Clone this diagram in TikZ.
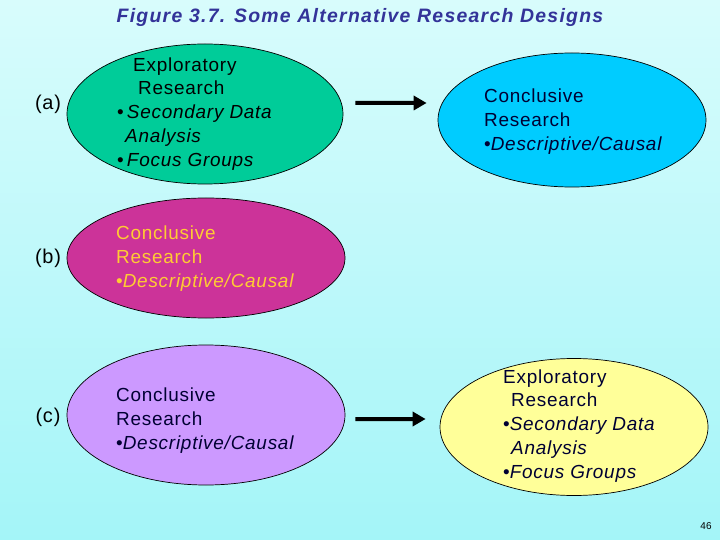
\documentclass[tikz,border=0pt]{standalone}
\usepackage{fontspec}
\setmainfont{Liberation Sans}
\usetikzlibrary{shapes.geometric,arrows.meta}
\definecolor{bgtop}{RGB}{216,252,252}
\definecolor{bgbottom}{RGB}{164,245,248}
\definecolor{titleblue}{RGB}{51,51,153}
\definecolor{sea}{RGB}{0,204,153}
\definecolor{sky}{RGB}{0,204,255}
\definecolor{plum}{RGB}{204,51,153}
\definecolor{lilac}{RGB}{204,153,255}
\definecolor{cream}{RGB}{255,255,153}
\definecolor{gold}{RGB}{255,204,51}
\definecolor{navy}{RGB}{0,0,51}
\tikzset{
	design/.style={ellipse, draw=black, line width=0.7bp, inner sep=0pt},
	body/.style={align=left, inner sep=0pt, anchor=west, font=\fontsize{19}{24}\selectfont\addfontfeature{LetterSpace=4}},
	tag/.style={inner sep=0pt, font=\fontsize{20}{24}\selectfont\addfontfeature{LetterSpace=4}},
	flow/.style={line width=4bp, -{Triangle[length=13bp,width=14bp]}}
}
\begin{document}
\begin{tikzpicture}[x=1bp, y=-1bp]
		%draw background
		\shade [top color=bgtop, bottom color=bgbottom] (0,0) rectangle (720,540);
		\useasboundingbox (0,0) rectangle (720,540);
		%draw title
		\node (title) at (360,17) [inner sep=0pt, color=titleblue, font=\fontsize{19.5}{24}\selectfont\bfseries\itshape\addfontfeature{LetterSpace=6.5}] {Figure 3.7. Some Alternative Research Designs};
		%draw row labels
		\node (taga) at (48,104) [tag] {(a)};
		\node (tagb) at (48,258) [tag] {(b)};
		\node (tagc) at (48,417) [tag] {(c)};
		%draw ellipses
		\node (ea) at (205,114) [design, fill=sea, minimum width=276bp, minimum height=140bp] {};
		\node (eb) at (572,120) [design, fill=sky, minimum width=268bp, minimum height=134bp] {};
		\node (ec) at (206,258) [design, fill=plum, minimum width=278bp, minimum height=120bp] {};
		\node (ed) at (206,415) [design, fill=lilac, minimum width=278bp, minimum height=140bp] {};
		\node (ee) at (574,427) [design, fill=cream, minimum width=268bp, minimum height=137bp] {};
		%draw texts
		\node (ta) at (117,114) [body] {\hspace*{16bp}Exploratory\\ \hspace*{21bp}Research\\ \textbullet\,\textit{Secondary Data}\\ \hspace*{8bp}\textit{Analysis}\\ \textbullet\,\textit{Focus Groups}};
		\node (tb) at (484,122) [body, color=navy] {Conclusive\\ Research\\ \textbullet\textit{Descriptive/Causal}};
		\node (tc) at (116,259) [body, color=gold] {Conclusive\\ Research\\ \textbullet\textit{Descriptive/Causal}};
		\node (td) at (116,421) [body, color=navy] {Conclusive\\ Research\\ \textbullet\textit{Descriptive/Causal}};
		\node (te) at (503,426) [body, color=navy] {Exploratory\\ \hspace*{8bp}Research\\ \textbullet\textit{Secondary Data}\\ \hspace*{8bp}\textit{Analysis}\\ \textbullet\textit{Focus Groups}};
		%draw arrows
		\draw [flow] ([xshift=12bp,yshift=11bp]ea.east) -- ([xshift=-11bp,yshift=17bp]eb.west);
		\draw [flow] ([xshift=10bp,yshift=-4bp]ed.east) -- ([xshift=-14bp,yshift=8bp]ee.west);
		%draw page number
		\node (page) at (706,526) [inner sep=0pt, font=\fontsize{10}{12}\selectfont] {46};
\end{tikzpicture}
\end{document}
